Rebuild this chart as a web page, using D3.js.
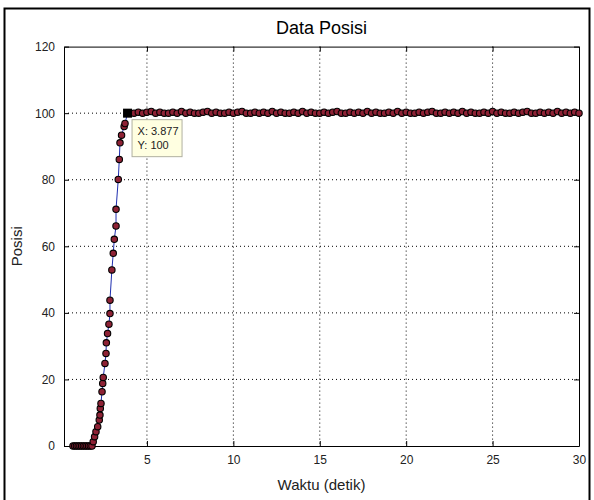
<html>
  <head>
    <style>
      body { margin: 0; background: #fff; }
      text { font-family: "Liberation Sans", Arial, sans-serif; }
    </style>
  </head>
  <body>
    <div id="vis"></div>
    <script src="https://d3js.org/d3.v7.min.js"></script>
    <script>
      // data
      const waktuNaik = [0.72, 0.82, 0.92, 1.02, 1.12, 1.22, 1.32, 1.42, 1.52, 1.62, 1.72, 1.82,
              1.89, 1.97, 2.05, 2.15, 2.24, 2.28, 2.30, 2.34, 2.40, 2.44, 2.47, 2.57, 2.63, 2.65,
              2.72, 2.80, 2.86, 2.86, 2.97, 3.05, 3.11, 3.21, 3.21, 3.34, 3.40, 3.44, 3.53, 3.68,
              3.73, 3.877]
      const posisiNaik = [0, 0, 0, 0, 0, 0, 0, 0, 0, 0, 0, 0,
              1.3, 2.8, 4.3, 5.8, 7.8, 9.3, 11.3, 12.8, 16.3, 18.8, 20.6, 24.8, 27.8, 31,
              33.8, 36.6, 39.8, 43.8, 52.9, 57.9, 62.1, 66.1, 71.1, 80.1, 86.1, 91.1, 93.4, 96.0,
              96.9, 100]
      const waktuTetap = [4.25, 4.5, 4.75, 5.0, 5.25, 5.5, 5.75, 6.0, 6.25, 6.5, 6.75, 7.0, 7.25,
              7.5, 7.75, 8.0, 8.25, 8.5, 8.75, 9.0, 9.25, 9.5, 9.75, 10.0, 10.25, 10.5, 10.75, 11.0,
              11.25, 11.5, 11.75, 12.0, 12.25, 12.5, 12.75, 13.0, 13.25, 13.5, 13.75, 14.0, 14.25,
              14.5, 14.75, 15.0, 15.25, 15.5, 15.75, 16.0, 16.25, 16.5, 16.75, 17.0, 17.25, 17.5,
              17.75, 18.0, 18.25, 18.5, 18.75, 19.0, 19.25, 19.5, 19.75, 20.0, 20.25, 20.5, 20.75,
              21.0, 21.25, 21.5, 21.75, 22.0, 22.25, 22.5, 22.75, 23.0, 23.25, 23.5, 23.75, 24.0,
              24.25, 24.5, 24.75, 25.0, 25.25, 25.5, 25.75, 26.0, 26.25, 26.5, 26.75, 27.0, 27.25,
              27.5, 27.75, 28.0, 28.25, 28.5, 28.75, 29.0, 29.25, 29.5, 29.75, 30.0]
      const posisiTetap = [100, 100.3, 100, 100.3, 100.5, 100, 100.3, 100, 100, 100.3, 100, 100.5,
              100, 100.3, 100, 100, 100.3, 100.5, 100, 100.3, 100, 100, 100.3, 100, 100.3, 100.5, 100,
              100, 100.3, 100, 100.3, 100, 100.5, 100, 100.3, 100, 100, 100.3, 100, 100.5, 100, 100.3,
              100, 100, 100.3, 100, 100.3, 100.5, 100, 100, 100.3, 100, 100.3, 100, 100.5, 100, 100.3,
              100, 100, 100.3, 100, 100.5, 100, 100.3, 100, 100, 100.3, 100, 100.3, 100.5, 100, 100,
              100.3, 100, 100.3, 100, 100.5, 100, 100.3, 100, 100, 100.3, 100, 100.5, 100, 100.3, 100,
              100, 100.3, 100, 100.3, 100.5, 100, 100, 100.3, 100, 100.3, 100, 100.5, 100, 100.3, 100,
              100.3, 100]
      const xTicks = [5, 10, 15, 20, 25, 30]
      const yTicks = [0, 20, 40, 60, 80, 100, 120]
      const tip = {x: 3.877, y: 100}

      const data = waktuNaik.map((t, i) => ({t: t, p: posisiNaik[i]}))
              .concat(waktuTetap.map((t, i) => ({t: t, p: posisiTetap[i]})))

      const svg_width = 594, svg_height = 500
      const pl = 64, pr = 579, pt = 46.6, pb = 446

      const svg = d3.select('#vis').append('svg').attr('width', svg_width).attr('height', svg_height)

      // outer frame
      svg.append('rect').attr('x', 4.5).attr('y', 8.5).attr('width', 585).attr('height', 500)
              .attr('fill', 'none').attr('stroke', '#000').attr('stroke-width', 2)

      const x = d3.scaleLinear().domain([0.2, 30]).range([pl, pr])
      const y = d3.scaleLinear().domain([0, 120]).range([pb, pt])

      // grid
      svg.append('g').selectAll('line').data(xTicks.filter(d => d < 30)).join('line')
              .attr('x1', d => x(d)).attr('x2', d => x(d)).attr('y1', pt).attr('y2', pb)
              .attr('stroke', '#000').attr('stroke-dasharray', '1,3')
      svg.append('g').selectAll('line').data(yTicks.filter(d => d > 0 && d < 120)).join('line')
              .attr('x1', pl).attr('x2', pr).attr('y1', d => y(d)).attr('y2', d => y(d))
              .attr('stroke', '#000').attr('stroke-dasharray', '1,3')

      // axes (ticks inward, box on)
      const axB = svg.append('g').attr('transform', 'translate(0,' + pb + ')')
              .call(d3.axisBottom(x).tickValues(xTicks).tickSizeInner(-5).tickSizeOuter(0).tickPadding(9))
      const axT = svg.append('g').attr('transform', 'translate(0,' + pt + ')')
              .call(d3.axisTop(x).tickValues(xTicks).tickSizeInner(-5).tickSizeOuter(0).tickFormat(''))
      const axL = svg.append('g').attr('transform', 'translate(' + pl + ',0)')
              .call(d3.axisLeft(y).tickValues(yTicks).tickSizeInner(-5).tickSizeOuter(0).tickPadding(9))
      const axR = svg.append('g').attr('transform', 'translate(' + pr + ',0)')
              .call(d3.axisRight(y).tickValues(yTicks).tickSizeInner(-5).tickSizeOuter(0).tickFormat(''))
      ;[axB, axT, axL, axR].forEach(a => {
        a.select('.domain').attr('stroke', '#000')
        a.selectAll('text').attr('font-size', 12).attr('fill', '#222')
                .attr('font-family', '"Liberation Sans", Arial, sans-serif')
      })

      // line + markers
      const line = d3.line().x(d => x(d.t)).y(d => y(d.p))
      svg.append('path').datum(data).attr('d', line)
              .attr('fill', 'none').attr('stroke', '#1f2fb0').attr('stroke-width', 1)
      svg.append('g').selectAll('circle').data(data).join('circle')
              .attr('cx', d => x(d.t)).attr('cy', d => y(d.p)).attr('r', 3.2)
              .attr('fill', '#8e2235').attr('stroke', '#000').attr('stroke-width', 1.1)

      // datatip
      svg.append('rect').attr('x', x(tip.x) - 4.5).attr('y', y(tip.y) - 4.5)
              .attr('width', 9).attr('height', 9).attr('fill', '#000')
      const tg = svg.append('g').attr('transform', 'translate(' + (x(tip.x) + 4) + ',' + (y(tip.y) + 6) + ')')
      tg.append('rect').attr('x', 0.5).attr('y', 0.5).attr('width', 50).attr('height', 37)
              .attr('fill', '#ffffe1').attr('stroke', '#b0b0a0')
      tg.append('text').attr('x', 6).attr('y', 16).attr('font-size', 11).attr('fill', '#222')
              .text('X: ' + tip.x)
      tg.append('text').attr('x', 6).attr('y', 30).attr('font-size', 11).attr('fill', '#222')
              .text('Y: ' + tip.y)

      // labels
      svg.append('text').attr('x', (pl + pr) / 2).attr('y', 34).attr('text-anchor', 'middle')
              .attr('font-size', 18).attr('fill', '#000').text('Data Posisi')
      svg.append('text').attr('x', (pl + pr) / 2).attr('y', 490).attr('text-anchor', 'middle')
              .attr('font-size', 15).attr('fill', '#222').text('Waktu (detik)')
      svg.append('text').attr('transform', 'translate(22,' + (pt + pb) / 2 + ') rotate(-90)')
              .attr('text-anchor', 'middle').attr('font-size', 15).attr('fill', '#222').text('Posisi')
    </script>
  </body>
</html>
